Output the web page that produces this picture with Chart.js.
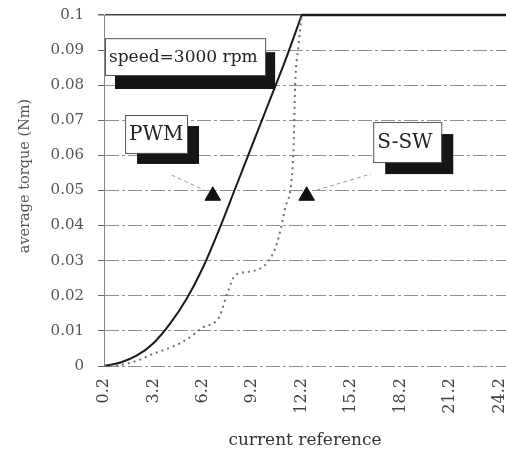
<!DOCTYPE html>
<html>
<head>
<meta charset="utf-8">
<script src="https://cdn.jsdelivr.net/npm/chart.js@4.4.1/dist/chart.umd.min.js"></script>
<style>
    html, body { margin: 0; padding: 0; background: #fff; }
    #wrap { width: 506px; height: 456px; }
</style>
</head>
<body>
<div id="wrap"><canvas id="torqueChart" width="506" height="456"></canvas></div>
<script>
// tick positions
const xTicks = [0.2, 3.2, 6.2, 9.2, 12.2, 15.2, 18.2, 21.2, 24.2];
const yTicks = [0, 0.01, 0.02, 0.03, 0.04, 0.05, 0.06, 0.07, 0.08, 0.09, 0.1];

// PWM curve (solid), rising part
const pwmX = [0.2, 1.2, 2.2, 3.2, 4.2, 5.2, 6.2, 7.2, 8.2, 9.2, 10.2, 11.2, 12.2];
const pwmY = [0, 0.001, 0.003, 0.0065, 0.012, 0.019, 0.028, 0.039, 0.051, 0.063, 0.075, 0.087, 0.1];

// S-SW curve (dotted), rising part
const sswX = [0.2, 1.2, 2.2, 3.2, 4.2, 5.2, 6.2, 7.2, 7.7, 8.2, 9.2, 10.2, 10.7, 11.2, 11.7, 11.8, 12.0, 12.2];
const sswY = [0, 0.0003, 0.0015, 0.0035, 0.0052, 0.0075, 0.011, 0.014, 0.021, 0.026, 0.027, 0.03, 0.035, 0.045, 0.061, 0.08, 0.091, 0.1];

// both curves saturate at the same level
const satX = [12.2, 24.6];
const satY = [0.1, 0.1];

// arrow heads pointing at the curves
const markerX = [6.8, 12.5];
const markerY = [0.0485, 0.0485];

// label boxes (data coordinates)
const boxes = [
    { text: 'speed=3000 rpm', x0: 0.26, x1: 9.98, y0: 0.0934, y1: 0.0829, size: 17, shadow: [10, 14] },
    { text: 'PWM', x0: 1.48, x1: 5.24, y0: 0.0715, y1: 0.0607, size: 20, shadow: [12, 11] },
    { text: 'S-SW', x0: 16.54, x1: 20.67, y0: 0.0695, y1: 0.0581, size: 20, shadow: [12, 12] }
];

// faint leader lines from the boxes to the arrow heads
const leaders = [
    [[4.3, 0.0544], [6.3, 0.0501]],
    [[13.1, 0.0501], [16.4, 0.0547]]
];

const serif = "'DejaVu Serif', 'Liberation Serif', serif";

const toPoints = (xs, ys) => xs.map((x, i) => ({ x: x, y: ys[i] }));

const overlayPlugin = {
    id: 'overlay',
    beforeDatasetsDraw(chart) {
        const ctx = chart.ctx;
        const xs = chart.scales.x, ys = chart.scales.y;
        ctx.save();
        ctx.strokeStyle = '#999';
        ctx.lineWidth = 1;
        ctx.setLineDash([4, 3]);
        leaders.forEach(l => {
            ctx.beginPath();
            ctx.moveTo(xs.getPixelForValue(l[0][0]), ys.getPixelForValue(l[0][1]));
            ctx.lineTo(xs.getPixelForValue(l[1][0]), ys.getPixelForValue(l[1][1]));
            ctx.stroke();
        });
        ctx.restore();
    },
    afterDatasetsDraw(chart) {
        const ctx = chart.ctx;
        const xs = chart.scales.x, ys = chart.scales.y;
        ctx.save();
        boxes.forEach(b => {
            const left = xs.getPixelForValue(b.x0);
            const right = xs.getPixelForValue(b.x1);
            const top = ys.getPixelForValue(b.y0);
            const bottom = ys.getPixelForValue(b.y1);
            // shadow
            ctx.fillStyle = '#151515';
            ctx.fillRect(left + b.shadow[0], top + b.shadow[1], right - left, bottom - top);
            // box
            ctx.fillStyle = '#fff';
            ctx.fillRect(left, top, right - left, bottom - top);
            ctx.strokeStyle = '#555';
            ctx.lineWidth = 1;
            ctx.strokeRect(left + 0.5, top + 0.5, right - left, bottom - top);
            ctx.fillStyle = '#222';
            ctx.font = b.size + 'px ' + serif;
            ctx.textAlign = 'left';
            ctx.textBaseline = 'middle';
            ctx.fillText(b.text, left + 4, (top + bottom) / 2 + 1);
        });
        ctx.restore();
    },
    afterDraw(chart) {
        // y axis title
        const ctx = chart.ctx;
        ctx.save();
        ctx.translate(25, 176);
        ctx.rotate(-Math.PI / 2);
        ctx.fillStyle = '#555';
        ctx.font = '14.5px ' + serif;
        ctx.textAlign = 'center';
        ctx.textBaseline = 'middle';
        ctx.fillText('average torque (Nm)', 0, 0);
        ctx.restore();
    }
};

const ctx = document.getElementById('torqueChart').getContext('2d');
new Chart(ctx, {
    type: 'line',
    data: {
        datasets: [
            {
                label: 'S-SW',
                data: toPoints(sswX, sswY),
                borderColor: '#707070',
                borderWidth: 2,
                borderDash: [2, 4],
                pointRadius: 0,
                cubicInterpolationMode: 'monotone',
                clip: 4
            },
            {
                label: 'PWM',
                data: toPoints(pwmX, pwmY),
                borderColor: '#1a1a1a',
                borderWidth: 2,
                pointRadius: 0,
                cubicInterpolationMode: 'monotone',
                clip: 4
            },
            {
                label: 'saturation',
                data: toPoints(satX, satY),
                borderColor: '#1a1a1a',
                borderWidth: 2.5,
                pointRadius: 0,
                clip: 4
            },
            {
                label: 'markers',
                data: toPoints(markerX, markerY),
                showLine: false,
                pointStyle: 'triangle',
                pointRadius: 9,
                pointBackgroundColor: '#111',
                pointBorderColor: '#111',
                pointBorderWidth: 1
            }
        ]
    },
    options: {
        responsive: false,
        animation: false,
        events: [],
        layout: { padding: { top: 15, left: 0, right: 0, bottom: 0 }, autoPadding: false },
        plugins: {
            legend: { display: false },
            tooltip: { enabled: false }
        },
        scales: {
            x: {
                type: 'linear',
                min: 0.2,
                max: 24.6,
                afterBuildTicks: (scale) => {
                    scale.ticks = xTicks.map(v => ({ value: v }));
                },
                afterFit: (scale) => {
                    scale.height = 90;
                    scale.paddingLeft = 0;
                    scale.paddingRight = 0;
                },
                grid: { display: false, drawTicks: false },
                border: { display: false },
                ticks: {
                    minRotation: 90,
                    maxRotation: 90,
                    padding: 12,
                    color: '#444',
                    font: { family: serif, size: 16 },
                    callback: (v) => Number(v).toFixed(1)
                },
                title: {
                    display: true,
                    text: 'current reference',
                    color: '#333',
                    font: { family: serif, size: 17 },
                    padding: { top: 0, bottom: 5 }
                }
            },
            y: {
                min: 0,
                max: 0.1,
                afterBuildTicks: (scale) => {
                    scale.ticks = yTicks.map(v => ({ value: v }));
                },
                afterFit: (scale) => {
                    scale.width = 104;
                    scale.paddingTop = 0;
                    scale.paddingBottom = 0;
                },
                grid: {
                    color: (c) => (c.tick && c.tick.value >= 0.0999 ? '#444' : '#8f8f8f'),
                    lineWidth: (c) => (c.tick && c.tick.value >= 0.0999 ? 1.5 : 1),
                    tickLength: 6,
                    tickColor: '#666'
                },
                border: {
                    display: true,
                    color: '#888',
                    width: 1,
                    dash: (c) => (c.tick && c.tick.value >= 0.0999 ? [] : [14, 3, 3, 3])
                },
                ticks: {
                    padding: 14,
                    color: '#555',
                    font: { family: serif, size: 15 },
                    callback: (v) => String(Number(Number(v).toFixed(2)))
                }
            }
        }
    },
    plugins: [overlayPlugin]
});
</script>
</body>
</html>
